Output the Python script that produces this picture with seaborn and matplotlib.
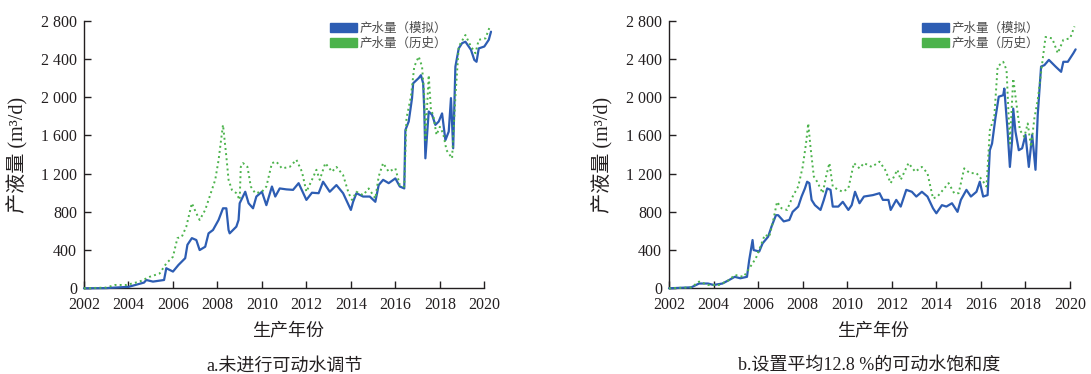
import matplotlib
matplotlib.use("Agg")
import matplotlib.pyplot as plt
import matplotlib.patches as mpatches
from matplotlib.ticker import FuncFormatter
import numpy as np
import pandas as pd
import seaborn as sns

# ---- data: liquid/water production (m3/d) vs. production year ----
# panel a: no movable-water adjustment
a_sim_year = [2002.0, 2003.0, 2003.2, 2004.0, 2004.7, 2004.8, 2005.1, 2005.6, 2005.7, 2006.0,
              2006.25, 2006.55, 2006.65, 2006.85, 2007.05, 2007.2, 2007.45, 2007.6, 2007.8, 2008.05,
              2008.25, 2008.4, 2008.5, 2008.55, 2008.7, 2008.85, 2008.95, 2009.0, 2009.25, 2009.4,
              2009.6, 2009.75, 2010.0, 2010.2, 2010.45, 2010.6, 2010.8, 2011.1, 2011.4, 2011.65,
              2011.85, 2012.0, 2012.25, 2012.55, 2012.75, 2013.05, 2013.35, 2013.65, 2013.9, 2014.0,
              2014.1, 2014.25, 2014.55, 2014.85, 2015.1, 2015.25, 2015.45, 2015.7, 2016.0, 2016.2,
              2016.4, 2016.45, 2016.6, 2016.75, 2016.8, 2017.05, 2017.15, 2017.25, 2017.3, 2017.35,
              2017.5, 2017.65, 2017.8, 2017.95, 2018.1, 2018.25, 2018.4, 2018.5, 2018.6, 2018.7,
              2018.85, 2019.0, 2019.15, 2019.4, 2019.55, 2019.65, 2019.75, 2020.0, 2020.2, 2020.3]
a_sim_value = [0, 2, 5, 15, 60, 87, 70, 87, 210, 175,
               245, 315, 455, 525, 505, 400, 435, 575, 610, 715,
               837, 837, 610, 575, 610, 645, 715, 890, 1010, 890,
               837, 960, 1010, 870, 1065, 960, 1045, 1035, 1030, 1100,
               1000, 925, 1000, 995, 1115, 1010, 1080, 995, 870, 820,
               905, 995, 960, 960, 905, 1080, 1135, 1100, 1150, 1065,
               1045, 1655, 1745, 1990, 2145, 2200, 2230, 2145, 1865, 1360,
               1850, 1815, 1710, 1745, 1830, 1550, 1640, 1990, 1465, 2320,
               2510, 2565, 2580, 2495, 2390, 2370, 2510, 2530, 2600, 2685]

a_hist_year = [2002.0, 2003.0, 2003.4, 2003.9, 2004.5, 2004.95, 2005.4, 2005.7, 2006.0, 2006.2,
               2006.4, 2006.6, 2006.85, 2007.05, 2007.2, 2007.45, 2007.65, 2007.9, 2008.05, 2008.2,
               2008.25, 2008.4, 2008.5, 2008.65, 2008.85, 2009.0, 2009.05, 2009.15, 2009.35, 2009.5,
               2009.7, 2010.0, 2010.2, 2010.45, 2010.65, 2010.9, 2011.25, 2011.55, 2011.8, 2012.0,
               2012.25, 2012.45, 2012.6, 2012.85, 2013.15, 2013.35, 2013.65, 2013.9, 2014.05, 2014.25,
               2014.55, 2014.8, 2015.1, 2015.25, 2015.45, 2015.7, 2016.0, 2016.2, 2016.4, 2016.5,
               2016.7, 2016.85, 2017.05, 2017.2, 2017.3, 2017.35, 2017.5, 2017.6, 2017.7, 2017.85,
               2018.0, 2018.15, 2018.3, 2018.55, 2018.7, 2018.85, 2019.15, 2019.4, 2019.6, 2019.75,
               2020.05, 2020.25]
a_hist_value = [0, 8, 35, 35, 70, 120, 155, 260, 330, 525,
                540, 645, 890, 785, 715, 820, 960, 1135, 1340, 1620,
                1710, 1380, 1135, 1030, 995, 925, 1270, 1310, 1270, 1065,
                995, 1010, 1065, 1310, 1325, 1255, 1270, 1345, 1220, 1010,
                1135, 1240, 1135, 1310, 1220, 1270, 1185, 995, 925, 1010,
                975, 1045, 940, 1170, 1310, 1220, 1255, 1080, 1065, 1780,
                2005, 2320, 2425, 2320, 2005, 1550, 2230, 1865, 1815, 1605,
                1690, 1620, 1445, 1360, 2005, 2530, 2650, 2530, 2460, 2600,
                2615, 2740]

# panel b: mean movable-water saturation of 12.8 %
b_sim_year = [2002.0, 2003.0, 2003.35, 2003.75, 2004.0, 2004.4, 2004.7, 2004.95, 2005.2, 2005.5,
              2005.6, 2005.75, 2005.8, 2006.05, 2006.2, 2006.45, 2006.6, 2006.8, 2006.9, 2007.15,
              2007.4, 2007.55, 2007.8, 2007.95, 2008.1, 2008.2, 2008.3, 2008.4, 2008.55, 2008.8,
              2008.95, 2009.1, 2009.25, 2009.35, 2009.6, 2009.8, 2010.05, 2010.2, 2010.35, 2010.55,
              2010.75, 2011.15, 2011.45, 2011.6, 2011.85, 2011.95, 2012.2, 2012.4, 2012.65, 2012.9,
              2013.1, 2013.35, 2013.6, 2013.85, 2014.0, 2014.25, 2014.45, 2014.7, 2014.95, 2015.1,
              2015.35, 2015.55, 2015.8, 2015.95, 2016.1, 2016.3, 2016.4, 2016.5, 2016.65, 2016.8,
              2017.0, 2017.05, 2017.2, 2017.3, 2017.4, 2017.45, 2017.55, 2017.7, 2017.85, 2018.0,
              2018.15, 2018.3, 2018.45, 2018.55, 2018.7, 2018.85, 2019.05, 2019.35, 2019.6, 2019.7,
              2019.9, 2020.15, 2020.25]
b_sim_value = [0, 10, 50, 50, 35, 50, 87, 120, 105, 120,
               295, 505, 400, 385, 470, 540, 645, 765, 765, 700,
               715, 800, 855, 960, 1045, 1115, 1100, 925, 870, 820,
               925, 1045, 1030, 855, 855, 905, 820, 870, 1010, 890,
               960, 975, 995, 925, 925, 820, 925, 855, 1030, 1010,
               960, 1010, 960, 837, 785, 870, 855, 890, 800, 925,
               1030, 960, 1010, 1115, 960, 975, 1445, 1515, 1780, 2005,
               2020, 2090, 1640, 1270, 1550, 1880, 1640, 1445, 1465, 1605,
               1270, 1605, 1240, 1815, 2320, 2335, 2390, 2320, 2265, 2370,
               2370, 2460, 2500]

b_hist_year = [2002.0, 2003.0, 2003.35, 2003.75, 2004.25, 2004.7, 2004.95, 2005.35, 2005.65, 2005.9,
               2006.1, 2006.3, 2006.5, 2006.65, 2006.85, 2007.05, 2007.3, 2007.55, 2007.8, 2008.0,
               2008.15, 2008.25, 2008.35, 2008.5, 2008.65, 2008.9, 2009.05, 2009.2, 2009.35, 2009.6,
               2009.8, 2010.05, 2010.3, 2010.55, 2010.75, 2011.1, 2011.45, 2011.7, 2011.95, 2012.25,
               2012.4, 2012.75, 2013.05, 2013.35, 2013.6, 2013.85, 2014.05, 2014.3, 2014.55, 2014.8,
               2015.0, 2015.25, 2015.5, 2015.8, 2016.05, 2016.25, 2016.4, 2016.6, 2016.75, 2017.0,
               2017.15, 2017.3, 2017.45, 2017.6, 2017.75, 2017.95, 2018.1, 2018.25, 2018.4, 2018.55,
               2018.75, 2018.9, 2019.2, 2019.45, 2019.7, 2020.0, 2020.2]
b_hist_value = [0, 10, 70, 35, 35, 87, 140, 120, 225, 315,
                435, 560, 540, 680, 905, 837, 820, 960, 1065, 1270,
                1515, 1725, 1480, 1170, 1115, 995, 1170, 1310, 1065, 1030,
                1010, 1045, 1310, 1255, 1310, 1270, 1325, 1240, 1100, 1240,
                1135, 1310, 1220, 1270, 1205, 940, 960, 1030, 1100, 995,
                995, 1255, 1205, 1205, 1135, 1065, 1655, 1795, 2320, 2370,
                2285, 1515, 2195, 1920, 1655, 1585, 1725, 1480, 1780, 1970,
                2355, 2630, 2615, 2460, 2600, 2615, 2740]

panel_captions = ["a.未进行可动水调节", "b.设置平均12.8 %的可动水饱和度"]
legend_labels = ["产水量（模拟）", "产水量（历史）"]
x_label = "生产年份"
y_label = "产液量 (m³/d)"
year_ticks = list(range(2002, 2021, 2))
value_ticks = list(range(0, 2801, 400))

# ---- styling ----
sns.set_theme(style="ticks")
plt.rcParams["font.family"] = ["Liberation Serif", "Noto Sans CJK SC", "DejaVu Sans"]
plt.rcParams["axes.unicode_minus"] = False

SIM_COLOR = "#2d5db3"
HIST_COLOR = "#4cb34c"
INK = "#231f20"

W, H = 1091, 374
fig = plt.figure(figsize=(W / 100, H / 100), dpi=100)

def px_rect(x0, y_top, x1, y_bot):
    return [x0 / W, 1 - y_bot / H, (x1 - x0) / W, (y_bot - y_top) / H]

x_end = 2020.35
axes_boxes = [px_rect(84, 20.7, 84 + 22.24 * (x_end - 2002), 288.3),
              px_rect(669, 20.7, 669 + 22.28 * (x_end - 2002), 288.3)]
legend_anchor_px = [(330, 21.5), (922, 21.5)]

panels = [
    (a_sim_year, a_sim_value, a_hist_year, a_hist_value),
    (b_sim_year, b_sim_value, b_hist_year, b_hist_value),
]

thousands = FuncFormatter(lambda v, _: f"{int(v):,}".replace(",", " "))

for i, (sy, sv, hy, hv) in enumerate(panels):
    ax = fig.add_axes(axes_boxes[i])
    sim = pd.DataFrame({"year": sy, "value": sv})
    hist = pd.DataFrame({"year": hy, "value": hv})

    sns.lineplot(data=sim, x="year", y="value", ax=ax, color=SIM_COLOR, lw=1.6,
                 estimator=None, sort=False, legend=False,
                 clip_on=False, zorder=3)
    sns.lineplot(data=hist, x="year", y="value", ax=ax, color=HIST_COLOR, lw=1.4,
                 linestyle=":", estimator=None, sort=False, legend=False,
                 clip_on=False, zorder=4)

    ax.set_xlim(2002, x_end)
    ax.set_ylim(0, 2800)
    ax.set_xticks(year_ticks)
    ax.set_yticks(value_ticks)
    ax.yaxis.set_major_formatter(thousands)
    ax.spines["bottom"].set_bounds(2002, 2020)
    sns.despine(ax=ax)
    for side in ("left", "bottom"):
        ax.spines[side].set_color(INK)
        ax.spines[side].set_linewidth(1.0)
    ax.tick_params(axis="both", direction="in", length=5, width=1.0, colors=INK,
                   labelsize=11.5, labelcolor=INK)
    ax.tick_params(axis="y", pad=5)
    ax.tick_params(axis="x", pad=6)

    ax.set_xlabel(x_label, fontsize=13, color=INK, labelpad=7)
    ax.set_ylabel(y_label, fontsize=14.5, color=INK, labelpad=9)

    handles = [mpatches.Patch(color=SIM_COLOR, label=legend_labels[0]),
               mpatches.Patch(color=HIST_COLOR, label=legend_labels[1])]
    lx, ly = legend_anchor_px[i]
    leg = fig.legend(handles=handles, loc="upper left",
                     bbox_to_anchor=(lx / W, 1 - ly / H), bbox_transform=fig.transFigure,
                     frameon=False, borderpad=0, borderaxespad=0,
                     handlelength=2.15, handleheight=0.7, handletextpad=0.25,
                     labelspacing=0.2, prop={"family": ["Noto Sans CJK SC"], "size": 9})
    for t in leg.get_texts():
        t.set_color("#4a4a4a")

    cx = (axes_boxes[i][0] + axes_boxes[i][0] + axes_boxes[i][2] * (18 / (x_end - 2002))) / 2
    fig.text(cx, 1 - 366.5 / H, panel_captions[i], ha="center", va="center",
             fontsize=13, color=INK)

fig.savefig("out.png", dpi=100)
